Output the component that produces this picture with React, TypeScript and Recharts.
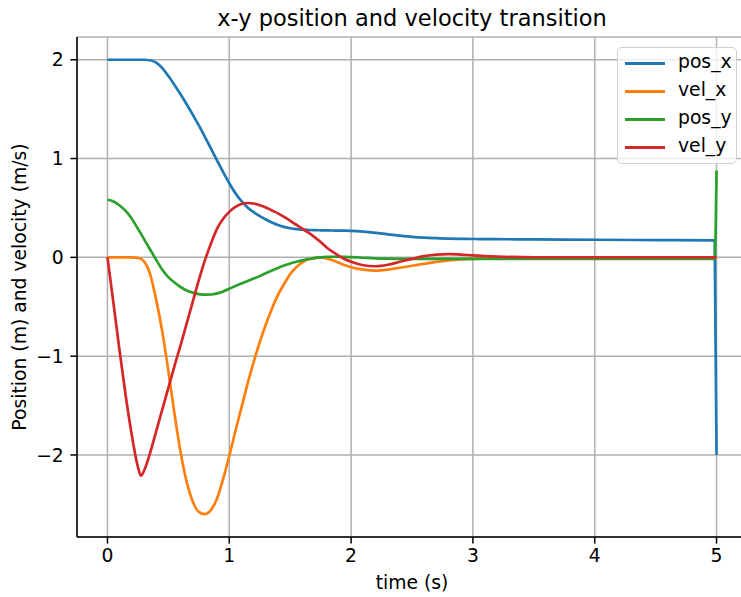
import React from 'react';
import { LineChart, Line, XAxis, YAxis, CartesianGrid, Label } from 'recharts';

// sample times (s)
const time = [0, 0.05, 0.1, 0.15, 0.2, 0.25, 0.275, 0.3, 0.35, 0.4, 0.45, 0.5, 0.55, 0.6, 0.65, 0.7, 0.75, 0.8, 0.85, 0.9, 0.95, 1.0, 1.05, 1.1, 1.15, 1.2, 1.25, 1.3, 1.35, 1.4, 1.45, 1.5, 1.55, 1.6, 1.65, 1.7, 1.75, 1.8, 1.85, 1.9, 1.95, 2.0, 2.1, 2.2, 2.3, 2.4, 2.5, 2.6, 2.7, 2.8, 2.9, 3.0, 3.2, 3.5, 4.0, 4.5, 4.985, 5.0];

const posX = [2.0, 2.0, 2.0, 2.0, 2.0, 2.0, 2.0, 2.0, 1.995, 1.97,
  1.915, 1.835, 1.745, 1.65, 1.55, 1.445, 1.335, 1.22, 1.1, 0.98,
  0.862, 0.75, 0.65, 0.568, 0.505, 0.457, 0.417, 0.383, 0.353, 0.328,
  0.309, 0.295, 0.286, 0.28, 0.277, 0.275, 0.274, 0.273, 0.272, 0.271,
  0.27, 0.268, 0.26, 0.248, 0.233, 0.219, 0.207, 0.199, 0.194, 0.19,
  0.188, 0.186, 0.184, 0.182, 0.178, 0.175, 0.172, -2.0];

const velX = [0, 0, 0, 0, 0, -0.005, -0.015, -0.04, -0.17, -0.43,
  -0.75, -1.15, -1.58, -1.97, -2.27, -2.47, -2.575, -2.598, -2.555, -2.44,
  -2.24, -2.01, -1.76, -1.52, -1.28, -1.06, -0.86, -0.68, -0.52, -0.38,
  -0.27, -0.17, -0.1, -0.05, -0.02, -0.005, 0.0, -0.01, -0.03, -0.055,
  -0.08, -0.1, -0.125, -0.135, -0.125, -0.105, -0.085, -0.065, -0.045, -0.03,
  -0.02, -0.015, -0.01, -0.005, 0, 0, 0, 0];

const posY = [0.583, 0.566, 0.525, 0.47, 0.39, 0.29, 0.24, 0.185, 0.08, -0.025,
  -0.125, -0.2, -0.255, -0.3, -0.335, -0.357, -0.372, -0.378, -0.376, -0.365,
  -0.345, -0.318, -0.29, -0.265, -0.24, -0.215, -0.19, -0.16, -0.133, -0.107,
  -0.083, -0.062, -0.045, -0.03, -0.017, -0.007, 0.0, 0.004, 0.006, 0.006,
  0.005, 0.002, -0.004, -0.01, -0.013, -0.015, -0.016, -0.016, -0.016, -0.016,
  -0.015, -0.015, -0.015, -0.015, -0.015, -0.015, -0.015, 0.88];

const velY = [0, -0.47, -0.95, -1.4, -1.8, -2.12, -2.21, -2.16, -1.98, -1.76,
  -1.54, -1.32, -1.1, -0.89, -0.67, -0.45, -0.23, -0.03, 0.14, 0.29,
  0.39, 0.46, 0.51, 0.54, 0.55, 0.545, 0.528, 0.505, 0.475, 0.445,
  0.41, 0.37, 0.33, 0.29, 0.25, 0.205, 0.155, 0.1, 0.055, 0.015,
  -0.02, -0.045, -0.08, -0.09, -0.075, -0.045, -0.015, 0.012, 0.028, 0.033,
  0.028, 0.02, 0.008, 0.0, 0, 0, 0, 0];

const xTicks = [0, 1, 2, 3, 4, 5];
const yTicks = [-2, -1, 0, 1, 2];

const SERIES = [
  { key: 'pos_x', color: '#1f77b4' },
  { key: 'vel_x', color: '#ff7f0e' },
  { key: 'pos_y', color: '#2ca02c' },
  { key: 'vel_y', color: '#d62728' },
];

const data = time.map((t, i) => ({
  t,
  pos_x: posX[i],
  vel_x: velX[i],
  pos_y: posY[i],
  vel_y: velY[i],
}));

const FONT = '"DejaVu Sans", sans-serif';
const LW = 2.7;

const fmtY = (v: number) => (v < 0 ? '\u2212' + Math.abs(v) : String(v));

const YLabel = (props: any) => {
  const vb = props.viewBox || { x: 0, y: 37, width: 77, height: 500 };
  const x = vb.x + 25.5;
  const y = vb.y + vb.height / 2;
  return (
    <text x={x} y={y} transform={`rotate(-90 ${x} ${y})`} textAnchor="middle" fill="#000" fontSize={18.75} fontFamily={FONT}>
      Position (m) and velocity (m/s)
    </text>
  );
};

const XLabel = (props: any) => {
  const vb = props.viewBox || { x: 77, y: 537, width: 670, height: 60 };
  return (
    <text x={vb.x + vb.width / 2} y={vb.y + 52} textAnchor="middle" fill="#000" fontSize={18.75} fontFamily={FONT}>
      time (s)
    </text>
  );
};

export default function App() {
  return (
    <div style={{ position: 'relative', width: 741, height: 597, overflow: 'hidden', background: '#fff' }}>
      <style>{'body{margin:0;overflow:hidden}'}</style>
      <LineChart width={760} height={597} data={data} margin={{ top: 37, right: 13, bottom: 0, left: 0 }}>
        <CartesianGrid stroke="#b0b0b0" strokeWidth={1.5} />
        <XAxis
          dataKey="t"
          type="number"
          domain={[-0.25, 5.25]}
          ticks={xTicks}
          allowDataOverflow
          height={60}
          tickSize={6.6}
          tickMargin={5.5}
          tickLine={{ stroke: '#000', strokeWidth: 1.5 }}
          axisLine={{ stroke: '#000', strokeWidth: 1.5 }}
          tick={{ fill: '#000', fontSize: 18.75, fontFamily: FONT }}
        >
          <Label content={XLabel} />
        </XAxis>
        <XAxis
          xAxisId="top"
          orientation="top"
          dataKey="t"
          type="number"
          domain={[-0.25, 5.25]}
          height={0}
          tick={false}
          tickLine={false}
          axisLine={{ stroke: '#000', strokeWidth: 1.5 }}
        />
        <YAxis
          type="number"
          domain={[-2.83, 2.23]}
          ticks={yTicks}
          allowDataOverflow
          width={77}
          tickSize={6.6}
          tickMargin={6.6}
          tickFormatter={fmtY}
          tickLine={{ stroke: '#000', strokeWidth: 1.5 }}
          axisLine={{ stroke: '#000', strokeWidth: 1.5 }}
          tick={{ fill: '#000', fontSize: 18.75, fontFamily: FONT }}
        >
          <Label content={YLabel} />
        </YAxis>
        {SERIES.map(s => (
          <Line
            key={s.key}
            dataKey={s.key}
            type="monotone"
            stroke={s.color}
            strokeWidth={LW}
            dot={false}
            activeDot={false}
            isAnimationActive={false}
          />
        ))}
      </LineChart>

      {/* title */}
      <div style={{ position: 'absolute', left: 77, width: 670, top: 5, textAlign: 'center', fontFamily: FONT, fontSize: 22.5, lineHeight: '26px', color: '#000' }}>
        x-y position and velocity transition
      </div>

      {/* legend */}
      <div style={{ position: 'absolute', left: 617, top: 47, width: 120, height: 117, boxSizing: 'border-box', border: '1.5px solid #d0d0d0', borderRadius: 5, background: 'rgba(255,255,255,0.8)', fontFamily: FONT, fontSize: 18.75, color: '#000' }}>
        {SERIES.map((s, i) => (
          <div key={s.key} style={{ position: 'absolute', left: 0, top: 15 + i * 28 - 14, height: 28, width: '100%' }}>
            <div style={{ position: 'absolute', left: 7, top: 13, width: 40, height: LW, background: s.color }} />
            <div style={{ position: 'absolute', left: 60, top: 0, lineHeight: '26px' }}>{s.key}</div>
          </div>
        ))}
      </div>
    </div>
  );
}
